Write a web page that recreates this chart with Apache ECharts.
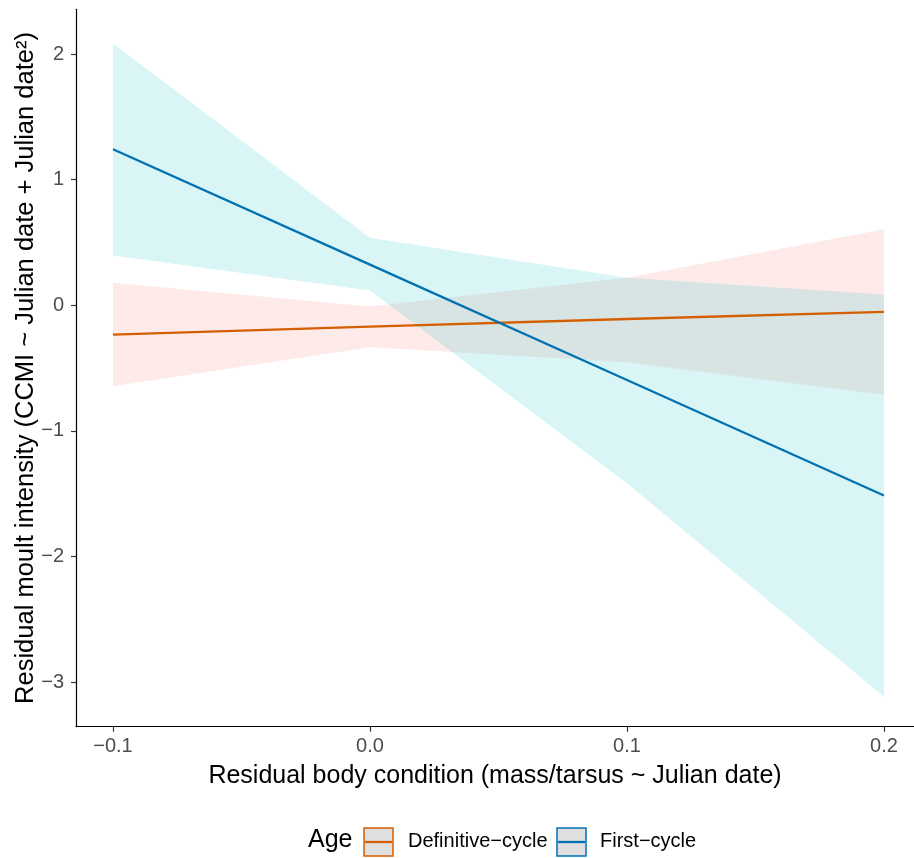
<!DOCTYPE html>
<html>
<head>
<meta charset="utf-8">
<script src="https://cdn.jsdelivr.net/npm/echarts@6/dist/echarts.min.js"></script>
<style>
html,body{margin:0;padding:0;background:#fff;}
#chart{width:914px;height:858px;}
</style>
</head>
<body>
<div id="chart"></div>
<script>
// ---- data ----
const xValues = [-0.1, 0.0, 0.1, 0.2];
const xTicks = [-0.1, 0.0, 0.1, 0.2];
const yTicks = [-3, -2, -1, 0, 1, 2];

const defFit   = [-0.234, -0.170, -0.110, -0.053];
const defLower = [-0.646, -0.335, -0.455, -0.712];
const defUpper = [0.178, -0.010, 0.218, 0.604];

const firstFit   = [1.242, 0.323, -0.596, -1.515];
const firstLower = [0.396, 0.117, -1.417, -3.118];
const firstUpper = [2.084, 0.537, 0.218, 0.085];

const groupNames = ['Definitive\u2212cycle', 'First\u2212cycle'];
const legendTitle = 'Age';
const xTitle = 'Residual body condition (mass/tarsus ~ Julian date)';
const yTitle = 'Residual moult intensity (CCMI ~ Julian date + Julian date\u00B2)';

// ---- styles ----
const lineColors = ['#D55E00', '#0072B2'];
const ribbonColors = ['#F8766D', '#00BFC4'];
const FONT = '"Liberation Sans", Arial, Helvetica, sans-serif';

function pairs(xs, ys) { return xs.map((x, i) => [x, ys[i]]); }

function ribbonSeries(lower, upper, color) {
  return {
    type: 'custom',
    silent: true,
    data: xValues.map((x, i) => [x, lower[i], upper[i]]),
    renderItem: function (params, api) {
      if (params.dataIndex !== 0) return null;
      const pts = [];
      for (let i = 0; i < xValues.length; i++) pts.push(api.coord([xValues[i], upper[i]]));
      for (let i = xValues.length - 1; i >= 0; i--) pts.push(api.coord([xValues[i], lower[i]]));
      return {
        type: 'polygon',
        shape: { points: pts },
        style: { fill: color, opacity: 0.15, stroke: null }
      };
    },
    encode: { x: 0, y: [1, 2] }
  };
}

function fitSeries(ys, color) {
  return {
    type: 'line',
    data: pairs(xValues, ys),
    symbol: 'none',
    silent: true,
    lineStyle: { color: color, width: 2.3 },
    animation: false
  };
}

const fmtMinus = s => s.replace('-', '\u2212');

const chart = echarts.init(document.getElementById('chart'), null, { renderer: 'canvas' });

const legendY = 842;
const legendItems = [];
legendItems.push({ type: 'text', left: 308, top: legendY - 14,
  style: { text: legendTitle, font: '25px ' + FONT, fill: '#000' } });
const keyX = [364, 557];
const textX = [408, 600];
for (let k = 0; k < 2; k++) {
  legendItems.push({ type: 'rect', shape: { x: keyX[k], y: legendY - 14, width: 29, height: 28 },
    style: { fill: '#DFDFDF', stroke: lineColors[k], lineWidth: 1.5 } });
  legendItems.push({ type: 'line', shape: { x1: keyX[k] + 1, y1: legendY, x2: keyX[k] + 28, y2: legendY },
    style: { stroke: lineColors[k], lineWidth: 2.3 } });
  legendItems.push({ type: 'text', left: textX[k], top: legendY - 11,
    style: { text: groupNames[k], font: '20px ' + FONT, fill: '#000' } });
}

chart.setOption({
  animation: false,
  backgroundColor: '#fff',
  textStyle: { fontFamily: FONT },
  grid: { left: 76, right: 0, top: 9.3, bottom: 131.3, containLabel: false, outerBoundsMode: 'none' },
  xAxis: {
    type: 'value',
    min: -0.1144, max: 0.2117,
    splitLine: { show: false },
    axisLine: { show: true, onZero: false, lineStyle: { color: '#000', width: 1.2 } },
    axisTick: { show: true, customValues: xTicks, length: 5, lineStyle: { color: '#333', width: 1.2 } },
    axisLabel: { customValues: xTicks, margin: 10, fontSize: 20, color: '#4D4D4D', fontFamily: FONT,
      formatter: v => fmtMinus(Number(v).toFixed(1)) },
    name: xTitle, nameLocation: 'middle', nameGap: 37, nameMoveOverlap: false,
    nameTextStyle: { fontSize: 25, color: '#000', fontFamily: FONT }
  },
  yAxis: {
    type: 'value',
    min: -3.356, max: 2.356,
    splitLine: { show: false },
    axisLine: { show: true, onZero: false, lineStyle: { color: '#000', width: 1.2 } },
    axisTick: { show: true, customValues: yTicks, length: 5, lineStyle: { color: '#333', width: 1.2 } },
    axisLabel: { customValues: yTicks, margin: 12, fontSize: 20, color: '#4D4D4D', fontFamily: FONT,
      formatter: v => fmtMinus(String(Math.round(v))) },
    name: yTitle, nameLocation: 'middle', nameGap: 37, nameRotate: 90, nameMoveOverlap: false,
    nameTextStyle: { fontSize: 25.5, color: '#000', fontFamily: FONT }
  },
  series: [
    ribbonSeries(defLower, defUpper, ribbonColors[0]),
    fitSeries(defFit, lineColors[0]),
    ribbonSeries(firstLower, firstUpper, ribbonColors[1]),
    fitSeries(firstFit, lineColors[1])
  ],
  graphic: legendItems
});
</script>
</body>
</html>
